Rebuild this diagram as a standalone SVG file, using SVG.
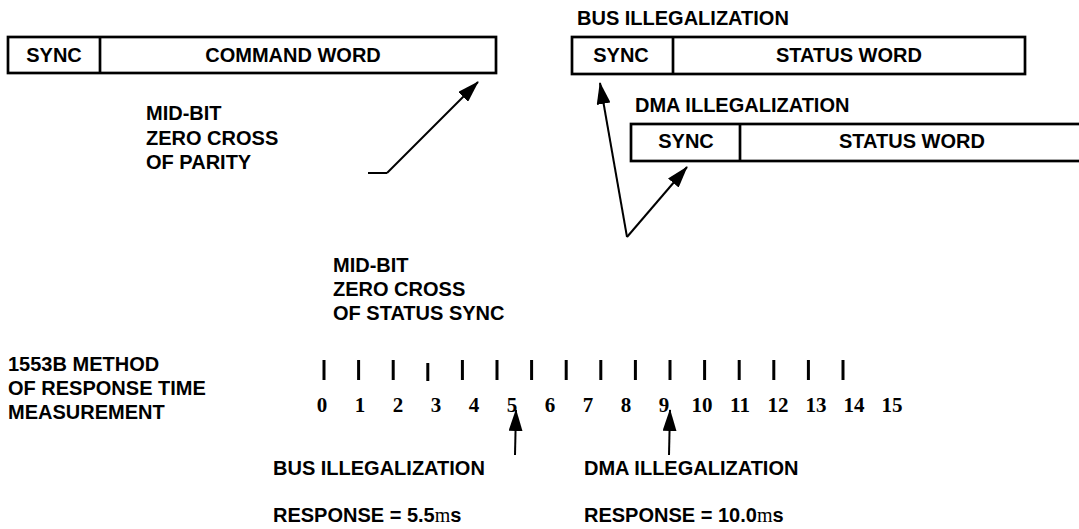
<svg xmlns="http://www.w3.org/2000/svg" width="1079" height="529" viewBox="0 0 1079 529">
<style>
.t{font-family:"Liberation Sans",Arial,sans-serif;font-weight:bold;font-size:20px;fill:#000}
.c{text-anchor:middle}
.n{font-family:"Liberation Serif","Times New Roman",serif;font-weight:bold;font-size:21px;fill:#000;text-anchor:middle}
.box{fill:#fff;stroke:#000;stroke-width:2.7}
.ln{stroke:#000;stroke-width:2;fill:none}
.tk{stroke:#000;stroke-width:3}
.mu{font-family:"Liberation Serif","Times New Roman",serif;font-weight:normal}
</style>
<defs>
<marker id="ahb" markerWidth="22" markerHeight="14" refX="21" refY="7" orient="auto" markerUnits="userSpaceOnUse" viewBox="0 0 22 14">
<path d="M0,0 L22,7 L0,14 Z" fill="#000"/>
</marker>
</defs>
<rect width="1079" height="529" fill="#fff"/>

<g id="command-word">
<rect class="box" x="8" y="37" width="488" height="36"/>
<line x1="100" y1="37" x2="100" y2="73" stroke="#000" stroke-width="2.7"/>
<text class="t c" x="54" y="62">SYNC</text>
<text class="t c" x="293" y="62">COMMAND WORD</text>
</g>

<g id="bus-status-word">
<text class="t" x="577" y="25">BUS ILLEGALIZATION</text>
<rect class="box" x="572" y="37" width="453" height="37"/>
<line x1="673" y1="37" x2="673" y2="74" stroke="#000" stroke-width="2.7"/>
<text class="t c" x="621" y="62">SYNC</text>
<text class="t c" x="849" y="62">STATUS WORD</text>
</g>

<g id="dma-status-word">
<text class="t" x="635" y="112">DMA ILLEGALIZATION</text>
<rect class="box" x="631" y="124" width="460" height="37"/>
<line x1="740" y1="124" x2="740" y2="161" stroke="#000" stroke-width="2.7"/>
<text class="t c" x="686" y="148">SYNC</text>
<text class="t c" x="912" y="148">STATUS WORD</text>
</g>

<g id="parity-label">
<text class="t" x="146" y="120">MID-BIT</text>
<text class="t" x="146" y="145">ZERO CROSS</text>
<text class="t" x="146" y="169">OF PARITY</text>
</g>

<g id="status-sync-label">
<text class="t" x="333" y="272">MID-BIT</text>
<text class="t" x="333" y="296">ZERO CROSS</text>
<text class="t" x="333" y="320">OF STATUS SYNC</text>
</g>

<g id="method-label">
<text class="t" x="8" y="371">1553B METHOD</text>
<text class="t" x="8" y="395">OF RESPONSE TIME</text>
<text class="t" x="8" y="419">MEASUREMENT</text>
</g>

<g id="scale">
<line class="tk" x1="324" y1="360" x2="324" y2="380"/>
<line class="tk" x1="358.6" y1="360" x2="358.6" y2="380"/>
<line class="tk" x1="393.2" y1="360" x2="393.2" y2="380"/>
<line class="tk" x1="427.8" y1="363" x2="427.8" y2="381"/>
<line class="tk" x1="462.4" y1="360" x2="462.4" y2="380"/>
<line class="tk" x1="497" y1="360" x2="497" y2="380"/>
<line class="tk" x1="531.6" y1="360" x2="531.6" y2="380"/>
<line class="tk" x1="566.2" y1="360" x2="566.2" y2="380"/>
<line class="tk" x1="600.8" y1="360" x2="600.8" y2="380"/>
<line class="tk" x1="635.4" y1="360" x2="635.4" y2="380"/>
<line class="tk" x1="670" y1="360" x2="670" y2="380"/>
<line class="tk" x1="704.6" y1="360" x2="704.6" y2="380"/>
<line class="tk" x1="739.2" y1="360" x2="739.2" y2="380"/>
<line class="tk" x1="773.8" y1="360" x2="773.8" y2="380"/>
<line class="tk" x1="808.4" y1="360" x2="808.4" y2="380"/>
<line class="tk" x1="843" y1="360" x2="843" y2="380"/>
<text class="n" x="322" y="412">0</text>
<text class="n" x="360" y="412">1</text>
<text class="n" x="398" y="412">2</text>
<text class="n" x="436" y="412">3</text>
<text class="n" x="474" y="412">4</text>
<text class="n" x="512" y="412">5</text>
<text class="n" x="550" y="412">6</text>
<text class="n" x="588" y="412">7</text>
<text class="n" x="626" y="412">8</text>
<text class="n" x="664" y="412">9</text>
<text class="n" x="702" y="412">10</text>
<text class="n" x="740" y="412">11</text>
<text class="n" x="778" y="412">12</text>
<text class="n" x="816" y="412">13</text>
<text class="n" x="854" y="412">14</text>
<text class="n" x="892" y="412">15</text>
</g>

<g id="bus-result">
<text class="t" x="273" y="475">BUS ILLEGALIZATION</text>
<text class="t" x="273" y="522">RESPONSE = 5.5<tspan class="mu">m</tspan>s</text>
</g>

<g id="dma-result">
<text class="t" x="584" y="475">DMA ILLEGALIZATION</text>
<text class="t" x="584" y="522">RESPONSE = 10.0<tspan class="mu">m</tspan>s</text>
</g>

<g id="connectors">
<line class="ln" x1="368" y1="173" x2="387" y2="173" stroke-width="3"/>
<line class="ln" x1="387" y1="173" x2="478" y2="82" marker-end="url(#ahb)"/>
<line class="ln" x1="627" y1="237" x2="600" y2="83" marker-end="url(#ahb)"/>
<line class="ln" x1="627" y1="237" x2="687" y2="167" marker-end="url(#ahb)"/>
<line class="ln" x1="515" y1="455" x2="516" y2="410" marker-end="url(#ahb)"/>
<line class="ln" x1="669" y1="455" x2="670" y2="410" marker-end="url(#ahb)"/>
</g>
</svg>
